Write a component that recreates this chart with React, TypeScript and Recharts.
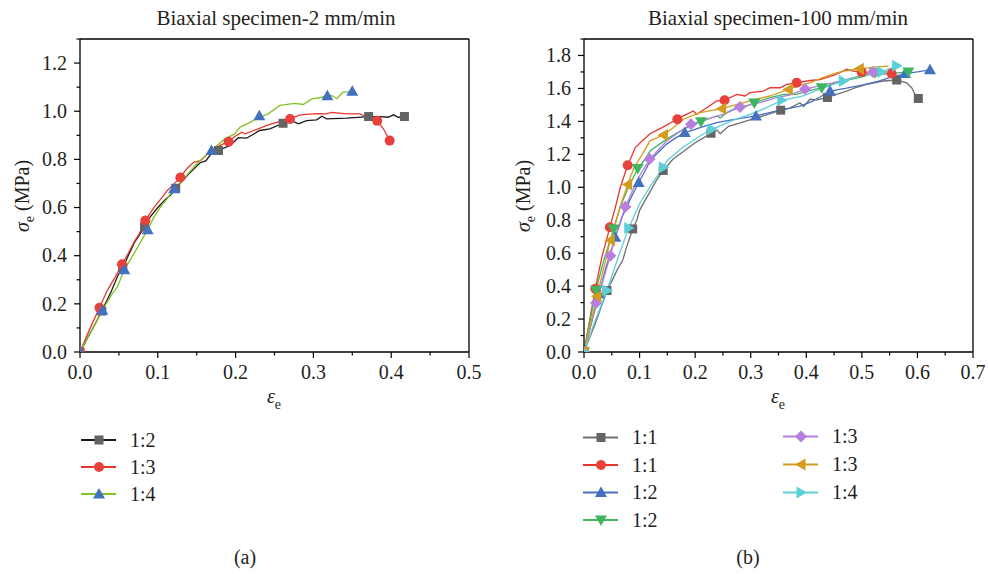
import React from "react"
import { ComposedChart, Line, Scatter, XAxis, YAxis, ReferenceLine } from "recharts"

type Pt = [number, number]

const FONT = "'Liberation Serif', 'Times New Roman', serif"
const TEXT = "#231f20"

// ---------- panel (a): 2 mm/min ----------
const aXTicks = [0, 0.05, 0.1, 0.15, 0.2, 0.25, 0.3, 0.35, 0.4, 0.45, 0.5]
const aXLabels = [0, 0.1, 0.2, 0.3, 0.4, 0.5]
const aYTicks = [0, 0.1, 0.2, 0.3, 0.4, 0.5, 0.6, 0.7, 0.8, 0.9, 1.0, 1.1, 1.2, 1.3]
const aYLabels = [0, 0.2, 0.4, 0.6, 0.8, 1.0, 1.2]

const a12Line: Pt[] = [
  [0, 0], [0.01, 0.06], [0.02, 0.12], [0.028, 0.17], [0.04, 0.25], [0.049, 0.32], [0.055, 0.35],
  [0.062, 0.4], [0.07, 0.455], [0.077, 0.49], [0.083, 0.52], [0.09, 0.56], [0.1, 0.6], [0.11, 0.635],
  [0.116, 0.65], [0.123, 0.68], [0.13, 0.705], [0.14, 0.74], [0.154, 0.785], [0.162, 0.795],
  [0.169, 0.825], [0.178, 0.837], [0.193, 0.858], [0.2035, 0.89], [0.214, 0.888], [0.231, 0.92],
  [0.244, 0.927], [0.261, 0.95], [0.274, 0.958], [0.281, 0.948], [0.291, 0.961], [0.304, 0.964],
  [0.311, 0.979], [0.317, 0.968], [0.343, 0.971], [0.371, 0.978], [0.386, 0.978], [0.396, 0.975],
  [0.403, 0.985], [0.409, 0.975], [0.417, 0.978],
]
const a12Marks: Pt[] = [
  [0, 0], [0.028, 0.17], [0.055, 0.35], [0.083, 0.52], [0.123, 0.68], [0.178, 0.837], [0.261, 0.95],
  [0.371, 0.978], [0.417, 0.978],
]

const a13Line: Pt[] = [
  [0, 0], [0.0125, 0.095], [0.025, 0.184], [0.035, 0.255], [0.045, 0.31], [0.054, 0.364], [0.062, 0.41],
  [0.07, 0.46], [0.076, 0.49], [0.084, 0.546], [0.095, 0.6], [0.105, 0.64], [0.112, 0.67], [0.12, 0.695],
  [0.129, 0.725], [0.137, 0.76], [0.146, 0.788], [0.155, 0.795], [0.163, 0.82], [0.171, 0.844],
  [0.191, 0.875], [0.201, 0.899], [0.208, 0.913], [0.212, 0.906], [0.229, 0.927], [0.24, 0.941],
  [0.257, 0.958], [0.27, 0.968], [0.283, 0.985], [0.304, 0.99], [0.317, 0.989], [0.3235, 0.995],
  [0.343, 0.989], [0.36, 0.989], [0.3685, 0.975], [0.382, 0.96], [0.39, 0.927], [0.398, 0.878],
]
const a13Marks: Pt[] = [
  [0, 0], [0.025, 0.184], [0.054, 0.364], [0.084, 0.546], [0.129, 0.725], [0.191, 0.873], [0.27, 0.968],
  [0.382, 0.96], [0.398, 0.878],
]

const a14Line: Pt[] = [
  [0, 0], [0.015, 0.09], [0.0287, 0.173], [0.04, 0.235], [0.048, 0.27], [0.057, 0.342], [0.065, 0.385],
  [0.075, 0.44], [0.087, 0.508], [0.095, 0.56], [0.105, 0.61], [0.113, 0.64], [0.121, 0.678],
  [0.1285, 0.699], [0.14, 0.745], [0.15, 0.782], [0.169, 0.837], [0.186, 0.885], [0.199, 0.906],
  [0.2057, 0.934], [0.2185, 0.954], [0.2305, 0.975], [0.242, 0.989], [0.257, 1.024], [0.276, 1.033],
  [0.287, 1.028], [0.298, 1.051], [0.308, 1.056], [0.318, 1.064], [0.324, 1.065], [0.33, 1.052],
  [0.338, 1.079], [0.35, 1.08],
]
const a14Marks: Pt[] = [
  [0, 0], [0.0287, 0.173], [0.057, 0.342], [0.087, 0.508], [0.121, 0.678], [0.169, 0.837], [0.2305, 0.981],
  [0.318, 1.064], [0.35, 1.083],
]

// ---------- panel (b): 100 mm/min ----------
const bXTicks = [0, 0.05, 0.1, 0.15, 0.2, 0.25, 0.3, 0.35, 0.4, 0.45, 0.5, 0.55, 0.6, 0.65, 0.7]
const bXLabels = [0, 0.1, 0.2, 0.3, 0.4, 0.5, 0.6, 0.7]
const bYTicks = [0, 0.1, 0.2, 0.3, 0.4, 0.5, 0.6, 0.7, 0.8, 0.9, 1.0, 1.1, 1.2, 1.3, 1.4, 1.5, 1.6, 1.7, 1.8, 1.9]
const bYLabels = [0, 0.2, 0.4, 0.6, 0.8, 1.0, 1.2, 1.4, 1.6, 1.8]

const b11aLine: Pt[] = [
  [0, 0], [0.02, 0.17], [0.0414, 0.373], [0.05, 0.43], [0.06, 0.5], [0.07, 0.56], [0.075, 0.62],
  [0.0876, 0.747], [0.095, 0.8], [0.1, 0.86], [0.11, 0.92], [0.12, 0.98], [0.13, 1.04], [0.1425, 1.102],
  [0.16, 1.17], [0.18, 1.22], [0.2, 1.27], [0.215, 1.3], [0.2285, 1.328], [0.24, 1.345], [0.245, 1.325],
  [0.26, 1.37], [0.28, 1.39], [0.3, 1.41], [0.32, 1.43], [0.354, 1.468], [0.37, 1.48], [0.3887, 1.513],
  [0.395, 1.49], [0.4067, 1.534], [0.42, 1.53], [0.438, 1.545], [0.46, 1.57], [0.4727, 1.584],
  [0.4877, 1.604], [0.5087, 1.624], [0.5386, 1.645], [0.5627, 1.651], [0.5806, 1.634], [0.5896, 1.604],
  [0.5956, 1.564], [0.6016, 1.539],
]
const b11aMarks: Pt[] = [
  [0, 0], [0.0414, 0.373], [0.0876, 0.747], [0.1425, 1.102], [0.2285, 1.328], [0.354, 1.468], [0.438, 1.545],
  [0.5627, 1.651], [0.6016, 1.539],
]

const b11bLine: Pt[] = [
  [0, 0], [0.0204, 0.384], [0.0325, 0.58], [0.0465, 0.757], [0.0564, 0.878], [0.0654, 1.0], [0.0786, 1.134],
  [0.0924, 1.241], [0.1044, 1.281], [0.1188, 1.325], [0.1404, 1.362], [0.155, 1.39], [0.168, 1.413],
  [0.1787, 1.433], [0.1967, 1.463], [0.2027, 1.443], [0.2208, 1.483], [0.2388, 1.524], [0.253, 1.528],
  [0.2748, 1.564], [0.2897, 1.554], [0.2987, 1.574], [0.3227, 1.584], [0.3347, 1.604], [0.3527, 1.604],
  [0.3647, 1.624], [0.3827, 1.634], [0.4067, 1.648], [0.4247, 1.654], [0.45, 1.68], [0.4727, 1.716],
  [0.4847, 1.705], [0.4997, 1.699], [0.5267, 1.685], [0.5537, 1.691],
]
const b11bMarks: Pt[] = [
  [0, 0], [0.0204, 0.384], [0.0465, 0.757], [0.0786, 1.134], [0.168, 1.413], [0.253, 1.528], [0.3827, 1.634],
  [0.4997, 1.699], [0.5537, 1.691],
]

const b12aLine: Pt[] = [
  [0, 0], [0.027, 0.353], [0.04, 0.52], [0.0564, 0.696], [0.07, 0.83], [0.085, 0.94], [0.0984, 1.029],
  [0.11, 1.1], [0.1188, 1.16], [0.13, 1.2], [0.1487, 1.262], [0.165, 1.3], [0.1814, 1.332], [0.195, 1.345],
  [0.2087, 1.362], [0.2388, 1.392], [0.2627, 1.407], [0.285, 1.42], [0.3095, 1.433], [0.33, 1.45],
  [0.3467, 1.463], [0.3887, 1.493], [0.41, 1.52], [0.4247, 1.548], [0.4427, 1.584], [0.47, 1.6], [0.5, 1.62],
  [0.53, 1.645], [0.55, 1.665], [0.5776, 1.69], [0.6, 1.7], [0.6226, 1.713],
]
const b12aMarks: Pt[] = [
  [0, 0], [0.027, 0.353], [0.0564, 0.696], [0.0984, 1.029], [0.1814, 1.332], [0.3095, 1.433], [0.4427, 1.584],
  [0.5776, 1.69], [0.6226, 1.713],
]

const b12bLine: Pt[] = [
  [0, 0], [0.0216, 0.375], [0.035, 0.55], [0.0534, 0.747], [0.065, 0.88], [0.08, 1.0], [0.0966, 1.114],
  [0.11, 1.17], [0.1188, 1.221], [0.1487, 1.292], [0.1787, 1.352], [0.2106, 1.398], [0.2388, 1.433],
  [0.245, 1.42], [0.2568, 1.453], [0.2748, 1.483], [0.29, 1.49], [0.3065, 1.512], [0.3347, 1.544],
  [0.3587, 1.564], [0.3827, 1.564], [0.4007, 1.584], [0.4277, 1.604], [0.45, 1.63], [0.48, 1.655],
  [0.5, 1.67], [0.5237, 1.695], [0.55, 1.69], [0.5836, 1.7],
]
const b12bMarks: Pt[] = [
  [0, 0], [0.0216, 0.375], [0.0534, 0.747], [0.0966, 1.114], [0.2106, 1.398], [0.3065, 1.512], [0.4277, 1.604],
  [0.5237, 1.695], [0.5836, 1.7],
]

const b13aLine: Pt[] = [
  [0, 0], [0.0216, 0.297], [0.035, 0.44], [0.0473, 0.585], [0.06, 0.74], [0.0744, 0.882], [0.09, 1.0],
  [0.1, 1.07], [0.1182, 1.171], [0.1487, 1.281], [0.1787, 1.352], [0.1925, 1.383], [0.2208, 1.413],
  [0.2508, 1.443], [0.2807, 1.487], [0.3167, 1.514], [0.3467, 1.544], [0.37, 1.56], [0.3977, 1.596],
  [0.43, 1.62], [0.46, 1.645], [0.49, 1.67], [0.52, 1.7],
]
const b13aMarks: Pt[] = [
  [0, 0], [0.0216, 0.297], [0.0473, 0.585], [0.0744, 0.882], [0.1182, 1.171], [0.1925, 1.383], [0.2807, 1.487],
  [0.3977, 1.596], [0.52, 1.7],
]

const b13bLine: Pt[] = [
  [0, 0], [0.0234, 0.338], [0.0473, 0.678], [0.065, 0.88], [0.0786, 1.017], [0.09, 1.12], [0.105, 1.2],
  [0.1188, 1.282], [0.143, 1.318], [0.16, 1.36], [0.1787, 1.413], [0.2087, 1.453], [0.2478, 1.477],
  [0.2987, 1.524], [0.3347, 1.554], [0.3677, 1.594], [0.39, 1.62], [0.4067, 1.634], [0.4247, 1.66],
  [0.45, 1.69], [0.4666, 1.705], [0.4955, 1.719], [0.5267, 1.731], [0.548, 1.735],
]
const b13bMarks: Pt[] = [
  [0, 0], [0.0234, 0.338], [0.0473, 0.678], [0.0786, 1.017], [0.143, 1.318], [0.2478, 1.477], [0.3677, 1.594],
  [0.4955, 1.719],
]

const b14Line: Pt[] = [
  [0, 0], [0.02, 0.19], [0.0414, 0.373], [0.06, 0.56], [0.0804, 0.752], [0.1, 0.9], [0.12, 1.01],
  [0.143, 1.122], [0.1487, 1.16], [0.1787, 1.245], [0.2087, 1.311], [0.2298, 1.352], [0.2687, 1.407],
  [0.2987, 1.443], [0.3287, 1.483], [0.3557, 1.528], [0.3947, 1.554], [0.42, 1.59], [0.4666, 1.645],
  [0.49, 1.67], [0.5177, 1.69], [0.5357, 1.699], [0.55, 1.72], [0.5627, 1.737],
]
const b14Marks: Pt[] = [
  [0, 0], [0.0414, 0.373], [0.0804, 0.752], [0.143, 1.122], [0.2298, 1.352], [0.3557, 1.528], [0.4666, 1.645],
  [0.5357, 1.699], [0.5627, 1.737],
]

type Kind = "square" | "circle" | "up" | "down" | "left" | "right" | "diamond"
type Series = { name: string; line: Pt[]; marks: Pt[]; stroke: string; fill: string; kind: Kind }

const panelA: Series[] = [
  { name: "1:2", line: a12Line, marks: a12Marks, stroke: "#1a1a1a", fill: "#646464", kind: "square" },
  { name: "1:3", line: a13Line, marks: a13Marks, stroke: "#e8362f", fill: "#e8413c", kind: "circle" },
  { name: "1:4", line: a14Line, marks: a14Marks, stroke: "#84c225", fill: "#4470c0", kind: "up" },
]

const panelB: Series[] = [
  { name: "1:1", line: b11aLine, marks: b11aMarks, stroke: "#6f6f6f", fill: "#646464", kind: "square" },
  { name: "1:1", line: b11bLine, marks: b11bMarks, stroke: "#e8362f", fill: "#e8413c", kind: "circle" },
  { name: "1:2", line: b12aLine, marks: b12aMarks, stroke: "#4a6fc4", fill: "#4470c0", kind: "up" },
  { name: "1:2", line: b12bLine, marks: b12bMarks, stroke: "#3fb55e", fill: "#3fb55e", kind: "down" },
  { name: "1:3", line: b13aLine, marks: b13aMarks, stroke: "#b880dc", fill: "#b880dc", kind: "diamond" },
  { name: "1:3", line: b13bLine, marks: b13bMarks, stroke: "#d49c1c", fill: "#d49c1c", kind: "left" },
  { name: "1:4", line: b14Line, marks: b14Marks, stroke: "#5ccfd6", fill: "#5ccfd6", kind: "right" },
]

const toXY = (pts: Pt[]) => pts.map(([x, y]) => ({ x, y }))

function Marker({ kind, cx, cy, color }: { kind: Kind; cx: number; cy: number; color: string }) {
  const s = 6
  switch (kind) {
    case "square":
      return <rect x={cx - 4.5} y={cy - 4.5} width={9} height={9} fill={color} />
    case "circle":
      return <circle cx={cx} cy={cy} r={5} fill={color} />
    case "up":
      return <polygon points={`${cx},${cy - s} ${cx - s},${cy + 4.5} ${cx + s},${cy + 4.5}`} fill={color} />
    case "down":
      return <polygon points={`${cx},${cy + s} ${cx - s},${cy - 4.5} ${cx + s},${cy - 4.5}`} fill={color} />
    case "left":
      return <polygon points={`${cx - s},${cy} ${cx + 4.5},${cy - s} ${cx + 4.5},${cy + s}`} fill={color} />
    case "right":
      return <polygon points={`${cx + s},${cy} ${cx - 4.5},${cy - s} ${cx - 4.5},${cy + s}`} fill={color} />
    case "diamond":
      return <polygon points={`${cx},${cy - s} ${cx + s},${cy} ${cx},${cy + s} ${cx - s},${cy}`} fill={color} />
  }
  return null
}

const isMajor = (labels: number[], v: number) => labels.some((l) => Math.abs(l - v) < 1e-6)

const makeXTick = (labels: number[]) => (props: any) => {
  const { x, y, payload } = props
  const major = isMajor(labels, payload.value)
  return (
    <g>
      <line x1={x} x2={x} y1={y} y2={y + (major ? 6 : 3.5)} stroke="#000" strokeWidth={1.2} />
      {major && (
        <text x={x} y={y + 26.5} textAnchor="middle" fontSize={20} fontFamily={FONT} fill={TEXT}>
          {payload.value.toFixed(1)}
        </text>
      )}
    </g>
  )
}

const makeYTick = (labels: number[]) => (props: any) => {
  const { x, y, payload } = props
  const major = isMajor(labels, payload.value)
  return (
    <g>
      <line x1={x} x2={x - (major ? 6 : 3.5)} y1={y} y2={y} stroke="#000" strokeWidth={1.2} />
      {major && (
        <text x={x - 13} y={y} dy="0.34em" textAnchor="end" fontSize={20} fontFamily={FONT} fill={TEXT}>
          {payload.value.toFixed(1)}
        </text>
      )}
    </g>
  )
}

type PanelProps = {
  left: number
  series: Series[]
  xMax: number
  yMax: number
  xTicks: number[]
  xLabels: number[]
  yTicks: number[]
  yLabels: number[]
  marginLeft: number
  marginRight: number
}

function Panel(p: PanelProps) {
  return (
    <div style={{ position: "absolute", left: p.left, top: 0 }}>
      <ComposedChart
        width={494}
        height={420}
        margin={{ top: 39, right: p.marginRight, bottom: 38, left: p.marginLeft }}
      >
        <XAxis
          type="number"
          dataKey="x"
          domain={[0, p.xMax]}
          ticks={p.xTicks}
          interval={0}
          tickSize={0}
          tickMargin={0}
          tickLine={false}
          tick={makeXTick(p.xLabels)}
          axisLine={{ stroke: "#000", strokeWidth: 1.3 }}
          height={30}
          allowDataOverflow
        />
        <YAxis
          type="number"
          dataKey="y"
          domain={[0, p.yMax]}
          ticks={p.yTicks}
          interval={0}
          tickSize={0}
          tickMargin={0}
          tickLine={false}
          tick={makeYTick(p.yLabels)}
          axisLine={{ stroke: "#000", strokeWidth: 1.3 }}
          width={60}
          allowDataOverflow
        />
        <ReferenceLine y={p.yMax} stroke="#000" strokeWidth={1.3} />
        <ReferenceLine x={p.xMax} stroke="#000" strokeWidth={1.3} />
        {p.series.flatMap((s, i) => [
          <Line
            key={`l${i}`}
            data={toXY(s.line)}
            dataKey="y"
            type="linear"
            stroke={s.stroke}
            strokeWidth={1.3}
            dot={false}
            activeDot={false}
            isAnimationActive={false}
          />,
          <Scatter
            key={`s${i}`}
            data={toXY(s.marks)}
            dataKey="y"
            isAnimationActive={false}
            shape={(sp: any) => <Marker kind={s.kind} cx={sp.cx} cy={sp.cy} color={s.fill} />}
          />,
        ])}
      </ComposedChart>
    </div>
  )
}

function LegendRow({ s, x, y }: { s: Series; x: number; y: number }) {
  return (
    <g>
      <line x1={x} x2={x + 35} y1={y} y2={y} stroke={s.stroke} strokeWidth={1.8} />
      <Marker kind={s.kind} cx={x + 18} cy={y} color={s.fill} />
      <text x={x + 49} y={y + 6.5} fontSize={20} fontFamily={FONT} fill={TEXT}>
        {s.name}
      </text>
    </g>
  )
}

function Overlay() {
  const t = { fontFamily: FONT, fill: TEXT }
  return (
    <svg
      width={988}
      height={574}
      style={{ position: "absolute", left: 0, top: 0, pointerEvents: "none" }}
    >
      <text x={276} y={25} textAnchor="middle" fontSize={21} {...t}>
        Biaxial specimen-2 mm/min
      </text>
      <text x={778} y={25} textAnchor="middle" fontSize={21} {...t}>
        Biaxial specimen-100 mm/min
      </text>

      {[
        { cx: 29, cy: 196 },
        { cx: 530, cy: 196 },
      ].map((c, i) => (
        <text key={i} transform={`translate(${c.cx},${c.cy}) rotate(-90)`} textAnchor="middle" fontSize={20} {...t}>
          <tspan fontStyle="italic">σ</tspan>
          <tspan fontSize={14} dy={5}>e</tspan>
          <tspan dy={-5}> (MPa)</tspan>
        </text>
      ))}

      {[274, 778].map((cx, i) => (
        <text key={i} x={cx} y={403} textAnchor="middle" fontSize={20} {...t}>
          <tspan fontStyle="italic">ε</tspan>
          <tspan fontSize={14} dy={6}>e</tspan>
        </text>
      ))}

      {panelA.map((s, i) => (
        <LegendRow key={i} s={s} x={81} y={440 + i * 27} />
      ))}
      {panelB.slice(0, 4).map((s, i) => (
        <LegendRow key={`b${i}`} s={s} x={583} y={437.5 + i * 27.5} />
      ))}
      {panelB.slice(4).map((s, i) => (
        <LegendRow key={`c${i}`} s={s} x={783} y={436.5 + i * 28} />
      ))}

      <text x={245} y={564} textAnchor="middle" fontSize={20} {...t}>
        (a)
      </text>
      <text x={748} y={564} textAnchor="middle" fontSize={20} {...t}>
        (b)
      </text>
    </svg>
  )
}

export default function App() {
  return (
    <div style={{ position: "absolute", left: 0, top: 0, width: 988, height: 574, background: "#fff" }}>
      <Panel
        left={0}
        series={panelA}
        xMax={0.5}
        yMax={1.3}
        xTicks={aXTicks}
        xLabels={aXLabels}
        yTicks={aYTicks}
        yLabels={aYLabels}
        marginLeft={20}
        marginRight={25}
      />
      <Panel
        left={494}
        series={panelB}
        xMax={0.7}
        yMax={1.9}
        xTicks={bXTicks}
        xLabels={bXLabels}
        yTicks={bYTicks}
        yLabels={bYLabels}
        marginLeft={30}
        marginRight={15}
      />
      <Overlay />
    </div>
  )
}
